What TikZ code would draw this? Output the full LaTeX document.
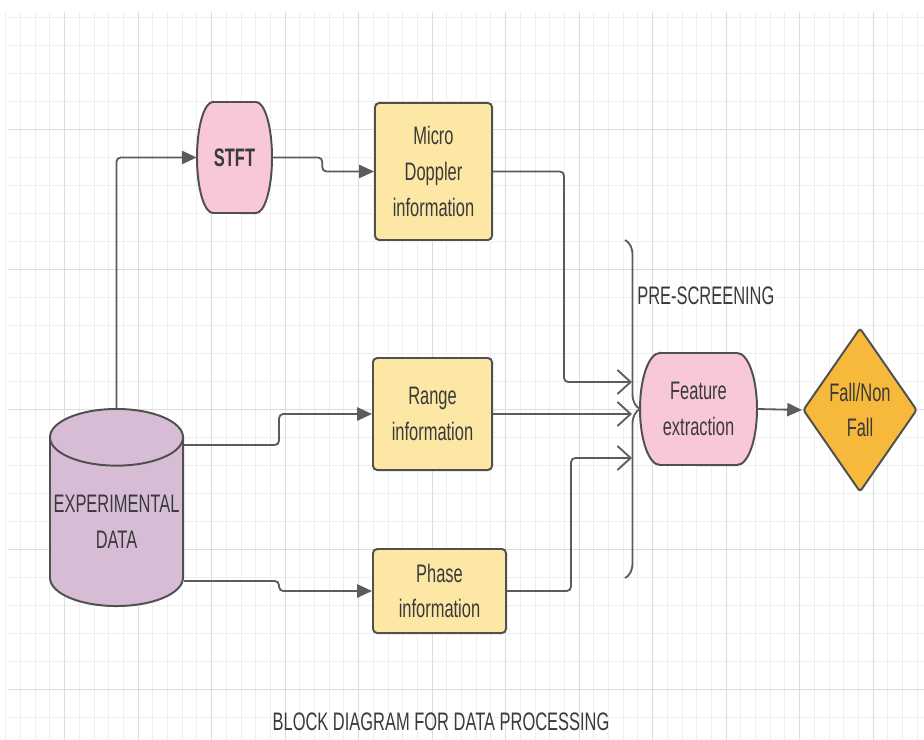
\documentclass[tikz,border=0pt]{standalone}
\usepackage{fontspec}
\setmainfont{Liberation Sans}[FakeStretch=0.65]
\usetikzlibrary{arrows.meta, shapes.geometric, decorations.pathreplacing}

\definecolor{gridminor}{HTML}{EFEFEF}
\definecolor{gridmajor}{HTML}{DCDCDC}
\definecolor{edge}{HTML}{505050}
\definecolor{wire}{HTML}{5C5C5C}
\definecolor{txt}{HTML}{3A3A3A}
\definecolor{pinkfill}{HTML}{F8C8D9}
\definecolor{yellowfill}{HTML}{FDE7A5}
\definecolor{mauvefill}{HTML}{D7BCD6}
\definecolor{orangefill}{HTML}{F6B93B}

\tikzset{
  lbl/.style={align=center, text=txt, inner sep=0pt, font=\fontsize{18}{25.5}\selectfont},
  infobox/.style={lbl, draw=edge, line width=1.4pt, fill=yellowfill, rounded corners=3pt},
  capsule/.style={draw=edge, line width=1.4pt, fill=pinkfill},
  wire/.style={draw=wire, line width=1.3pt, rounded corners=3pt},
  feed/.style={wire, -{Triangle[length=0.37cm, width=0.33cm]}},
  merge/.style={wire, -{Straight Barb[length=0.33cm, width=0.6cm]}},
}

\begin{document}
\begin{tikzpicture}[x=0.025cm, y=-0.025cm]
    \useasboundingbox (0,0) rectangle (924,740);
    \fill[white] (0,0) rectangle (924,740);

    % Background grid
    \foreach \k in {-9,...,53}
        \draw[gridminor, line width=0.5pt] ({138+14.7*\k},12) -- ({138+14.7*\k},740);
    \foreach \k in {0,...,25}
        \draw[gridminor, line width=0.5pt] (8,{17+28*\k}) -- (924,{17+28*\k});
    \foreach \k in {-1,...,10}
        \draw[gridmajor, line width=0.6pt] ({138+73.5*\k},12) -- ({138+73.5*\k},740);
    \foreach \k in {0,...,4}
        \draw[gridmajor, line width=0.6pt] (8,{129+140*\k}) -- (924,{129+140*\k});

    % Capsules for STFT and feature extraction
    \filldraw[capsule] (213,102) -- (256,102) arc[start angle=90, end angle=-90, x radius=0.4cm, y radius=1.3875cm]
        -- (213,213) arc[start angle=270, end angle=90, x radius=0.4cm, y radius=1.3875cm] -- cycle;
    \filldraw[capsule] (660,353) -- (737,353) arc[start angle=90, end angle=-90, x radius=0.5cm, y radius=1.4cm]
        -- (660,465) arc[start angle=270, end angle=90, x radius=0.5cm, y radius=1.4cm] -- cycle;

    \node[lbl, font=\fontsize{18}{25.5}\selectfont\bfseries, minimum width=1.875cm, minimum height=2.775cm] (stft) at (234.5,157.5) {STFT};
    \node[lbl, minimum width=2.925cm, minimum height=2.8cm] (feat) at (698.5,409) {Feature\\extraction};

    % Data source
    \node[lbl, cylinder, shape border rotate=90, aspect=0.45, draw=edge, line width=1.4pt,
          cylinder uses custom fill, cylinder body fill=mauvefill, cylinder end fill=mauvefill,
          minimum width=3.325cm, minimum height=4.925cm, anchor=north] (data) at (116.5,408) {EXPERIMENTAL\\DATA};

    % Information blocks
    \node[infobox, minimum width=2.925cm, minimum height=3.425cm] (doppler) at (433.5,171.5) {Micro\\Doppler\\information};
    \node[infobox, minimum width=2.975cm, minimum height=2.8cm] (range) at (432.5,414) {Range\\information};
    \node[infobox, minimum width=3.325cm, minimum height=2.1cm] (phase) at (439.5,591) {Phase\\information};

    % Decision
    \node[lbl, diamond, aspect=0.7, draw=edge, line width=1.4pt, fill=orangefill, rounded corners=2pt,
          minimum width=2.85cm, minimum height=4.1cm] (fall) at (860,410) {Fall/Non\\Fall};

    % Pre-screening brace
    \draw[wire, rounded corners=0pt, decorate, decoration={brace, amplitude=0.375cm}] (625,240) -- (625,578);
    \node[lbl, anchor=west] (prescreen) at (637,296) {PRE-SCREENING};

    \coordinate (inA) at (632,382);
    \coordinate (inB) at (632,414);
    \coordinate (inC) at (632,458);

    % Connections
    \draw[feed] (data.north) |- (stft.west);
    \draw[feed] (stft.east) -- ++(50,0) |- (doppler.west);
    \draw[feed] (data.east |- 0,445) -- ++(95,0) |- (range.west);
    \draw[feed] (data.east |- 0,581) -- ++(95,0) |- (phase.west);
    \draw[merge] (doppler.east) -- ++(71,0) |- (inA);
    \draw[merge] (range.east) -- (inB);
    \draw[merge] (phase.east) -- ++(64,0) |- (inC);
    \draw[feed] (feat.east) -- (fall.west);

    \node[lbl] (title) at (441,722) {BLOCK DIAGRAM FOR DATA PROCESSING};
\end{tikzpicture}
\end{document}
